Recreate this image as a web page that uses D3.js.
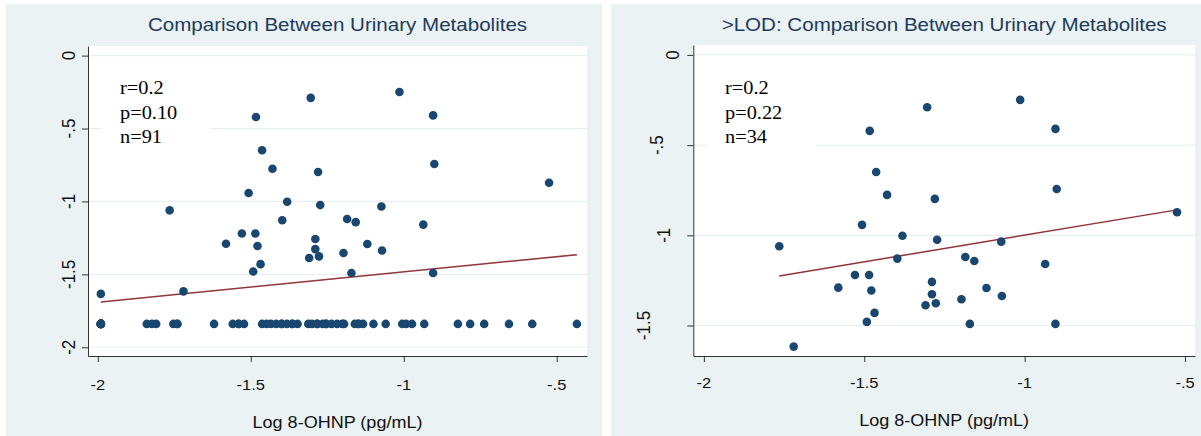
<!DOCTYPE html>
<html><head><meta charset="utf-8">
<script src="https://cdn.jsdelivr.net/npm/d3@7"></script>
<style>html,body{margin:0;padding:0;background:#fff;}svg{display:block;}</style>
</head><body>
<svg id="c" width="1201" height="436"></svg>
<script>
// ---------- data ----------
const xTicks = [-2, -1.5, -1, -0.5];
const xTickLabels = ["-2", "-1.5", "-1", "-.5"];
const yTicksLeft = [0, -0.5, -1, -1.5, -2];
const yTickLabelsLeft = ["0", "-.5", "-1", "-1.5", "-2"];
const yTicksRight = [0, -0.5, -1, -1.5];
const yTickLabelsRight = ["0", "-.5", "-1", "-1.5"];

// subjects with both metabolites above LOD (n=34)
const detX = [-1.765,-1.720,-1.581,-1.529,-1.507,-1.492,-1.485,-1.483,-1.478,-1.468,-1.463,-1.429,-1.397,-1.381,
  -1.309,-1.304,-1.289,-1.289,-1.280,-1.277,-1.273,-1.185,-1.197,-1.157,-1.171,-1.119,-1.073,-1.071,-1.014,
  -0.936,-0.904,-0.900,-0.904,-0.525];
const detY = [-1.061,-1.617,-1.290,-1.220,-0.942,-1.480,-1.220,-0.421,-1.306,-1.430,-0.649,-0.776,-1.129,-1.002,
  -1.388,-0.290,-1.258,-1.327,-0.798,-1.377,-1.025,-1.120,-1.354,-1.142,-1.491,-1.292,-1.035,-1.336,-0.249,
  -1.159,-0.410,-0.743,-1.491,-0.872];
// extra subject: x at LOD, y detected
const extraX = [-1.99];
const extraY = [-1.634];
// subjects with y at LOD
const lodY = -1.84;
const lodX = [-1.99,-1.99,-1.99,-1.99,-1.99,-1.99,-1.99,-1.99,
  -1.840,-1.823,-1.809,-1.753,-1.740,-1.740,-1.620,-1.559,-1.540,-1.540,-1.522,
  -1.463,-1.448,-1.434,-1.417,-1.399,-1.399,-1.382,-1.364,-1.364,-1.347,
  -1.312,-1.300,-1.283,-1.283,-1.265,-1.254,-1.254,-1.236,-1.218,-1.201,-1.195,
  -1.160,-1.148,-1.148,-1.133,-1.099,-1.059,-1.005,-0.992,-0.973,
  -0.933,-0.823,-0.783,-0.737,-0.656,-0.580,-0.434];

// fitted lines (data units)
const fitLeftX = [-1.99, -0.434];
const fitLeftY = [-1.689, -1.365];
const fitRightX = [-1.765, -0.525];
const fitRightY = [-1.225, -0.859];

const titles = ["Comparison Between Urinary Metabolites", ">LOD: Comparison Between Urinary Metabolites"];
const xAxisTitle = "Log 8-OHNP (pg/mL)";
const statsLeft = ["r=0.2", "p=0.10", "n=91"];
const statsRight = ["r=0.2", "p=0.22", "n=34"];

// ---------- styles ----------
const BG = "#eaf2f3", GRID = "#e6eff1", NAVY = "#1a476f", MAROON = "#90353b", AX = "#333";
const SANS = "'Liberation Sans', Arial, sans-serif", SERIF = "'Liberation Serif', 'Times New Roman', serif";
const SX = 1.1; // horizontal text stretch of the reference

const svg = d3.select("#c");

function stretchedText(g, x, y, str, opts) {
  return g.append("text")
    .attr("transform", `translate(${x},${y}) scale(${SX},1)`)
    .attr("font-family", opts.family || SANS)
    .attr("font-size", opts.size)
    .attr("fill", opts.fill || "#111")
    .attr("text-anchor", opts.anchor || "start")
    .text(str);
}

function panel(cfg) {
  const g = svg.append("g");
  g.append("rect").attr("x", cfg.px0).attr("y", 4).attr("width", cfg.px1 - cfg.px0).attr("height", 432).attr("fill", BG);
  const x = d3.scaleLinear().domain(cfg.xDom).range([cfg.x0, cfg.x1]);
  const y = d3.scaleLinear().domain(cfg.yDom).range([cfg.y0, cfg.y1]);
  g.append("rect").attr("x", cfg.x0).attr("y", cfg.y0).attr("width", cfg.x1 - cfg.x0).attr("height", cfg.y1 - cfg.y0).attr("fill", "#fff");
  // gridlines
  g.append("g").selectAll("line").data(cfg.yTicks).join("line")
    .attr("x1", cfg.x0).attr("x2", cfg.x1).attr("y1", d => y(d)).attr("y2", d => y(d))
    .attr("stroke", GRID).attr("stroke-width", 1.2);
  // annotation box
  g.append("rect").attr("x", cfg.annX - 19).attr("y", 66).attr("width", 110).attr("height", 86).attr("fill", "#fff");
  cfg.stats.forEach((s, i) => stretchedText(g, cfg.annX, 94 + i * 24.6, s, {family: SERIF, size: 18.5, fill: "#000"}));
  // fit line
  const line = d3.line().x(d => x(d[0])).y(d => y(d[1]));
  g.append("path").datum(d3.zip(cfg.fitX, cfg.fitY)).attr("d", line)
    .attr("fill", "none").attr("stroke", MAROON).attr("stroke-width", 1.5);
  // points
  g.append("g").selectAll("circle").data(cfg.points).join("circle")
    .attr("cx", d => x(d[0])).attr("cy", d => y(d[1])).attr("r", 4.3).attr("fill", NAVY);
  // axes
  const xa = g.append("g").attr("transform", `translate(0,${cfg.y1})`)
    .call(d3.axisBottom(x).tickValues(xTicks).tickSize(6).tickSizeOuter(0).tickFormat(""));
  xa.select(".domain").attr("stroke", AX);
  xa.selectAll(".tick line").attr("stroke", AX);
  xTicks.forEach((v, i) => stretchedText(g, x(v), cfg.xLabY, xTickLabels[i], {size: 15, anchor: "middle"}));
  const ya = g.append("g").attr("transform", `translate(${cfg.x0},0)`)
    .call(d3.axisLeft(y).tickValues(cfg.yTicks).tickSize(6).tickSizeOuter(0).tickFormat(""));
  ya.select(".domain").attr("stroke", AX);
  ya.selectAll(".tick line").attr("stroke", AX);
  cfg.yTicks.forEach((v, i) => {
    const t = g.append("text").attr("font-family", SANS).attr("font-size", 17).attr("fill", "#111")
      .attr("text-anchor", "middle").text(cfg.yLabels[i]);
    const w = t.node().getComputedTextLength();
    const bx = cfg.x0 - cfg.yLabGap - cfg.yLabK * w;
    t.attr("transform", `translate(${bx},${y(v)}) rotate(-90) scale(1,${SX})`);
  });
  // titles
  const cx = (cfg.x0 + cfg.x1) / 2;
  stretchedText(g, cx, 30.5, cfg.title, {size: 18.7, anchor: "middle", fill: "#1e3a5c"});
  stretchedText(g, cx, cfg.xTitleY, xAxisTitle, {size: 16.4, anchor: "middle"});
}

const leftPoints = d3.zip(detX, detY).concat(d3.zip(extraX, extraY)).concat(lodX.map(v => [v, lodY]));
const rightPoints = d3.zip(detX, detY);

panel({px0: 6, px1: 602, x0: 88, x1: 587, y0: 46, y1: 356, xDom: [-2.032, -0.401], yDom: [0.066, -2.06],
  yTicks: yTicksLeft, yLabels: yTickLabelsLeft, yLabGap: 13.3, yLabK: 0, xLabY: 389.5, xTitleY: 427.5,
  title: titles[0], stats: statsLeft, annX: 120, points: leftPoints, fitX: fitLeftX, fitY: fitLeftY});
panel({px0: 611, px1: 1201, x0: 693.3, x1: 1195, y0: 45, y1: 356, xDom: [-2.033, -0.469], yDom: [0.055, -1.669],
  yTicks: yTicksRight, yLabels: yTickLabelsRight, yLabGap: 0.9, yLabK: 1.458, xLabY: 387.5, xTitleY: 425.5,
  title: titles[1], stats: statsRight, annX: 725, points: rightPoints, fitX: fitRightX, fitY: fitRightY});
</script>
</body></html>
